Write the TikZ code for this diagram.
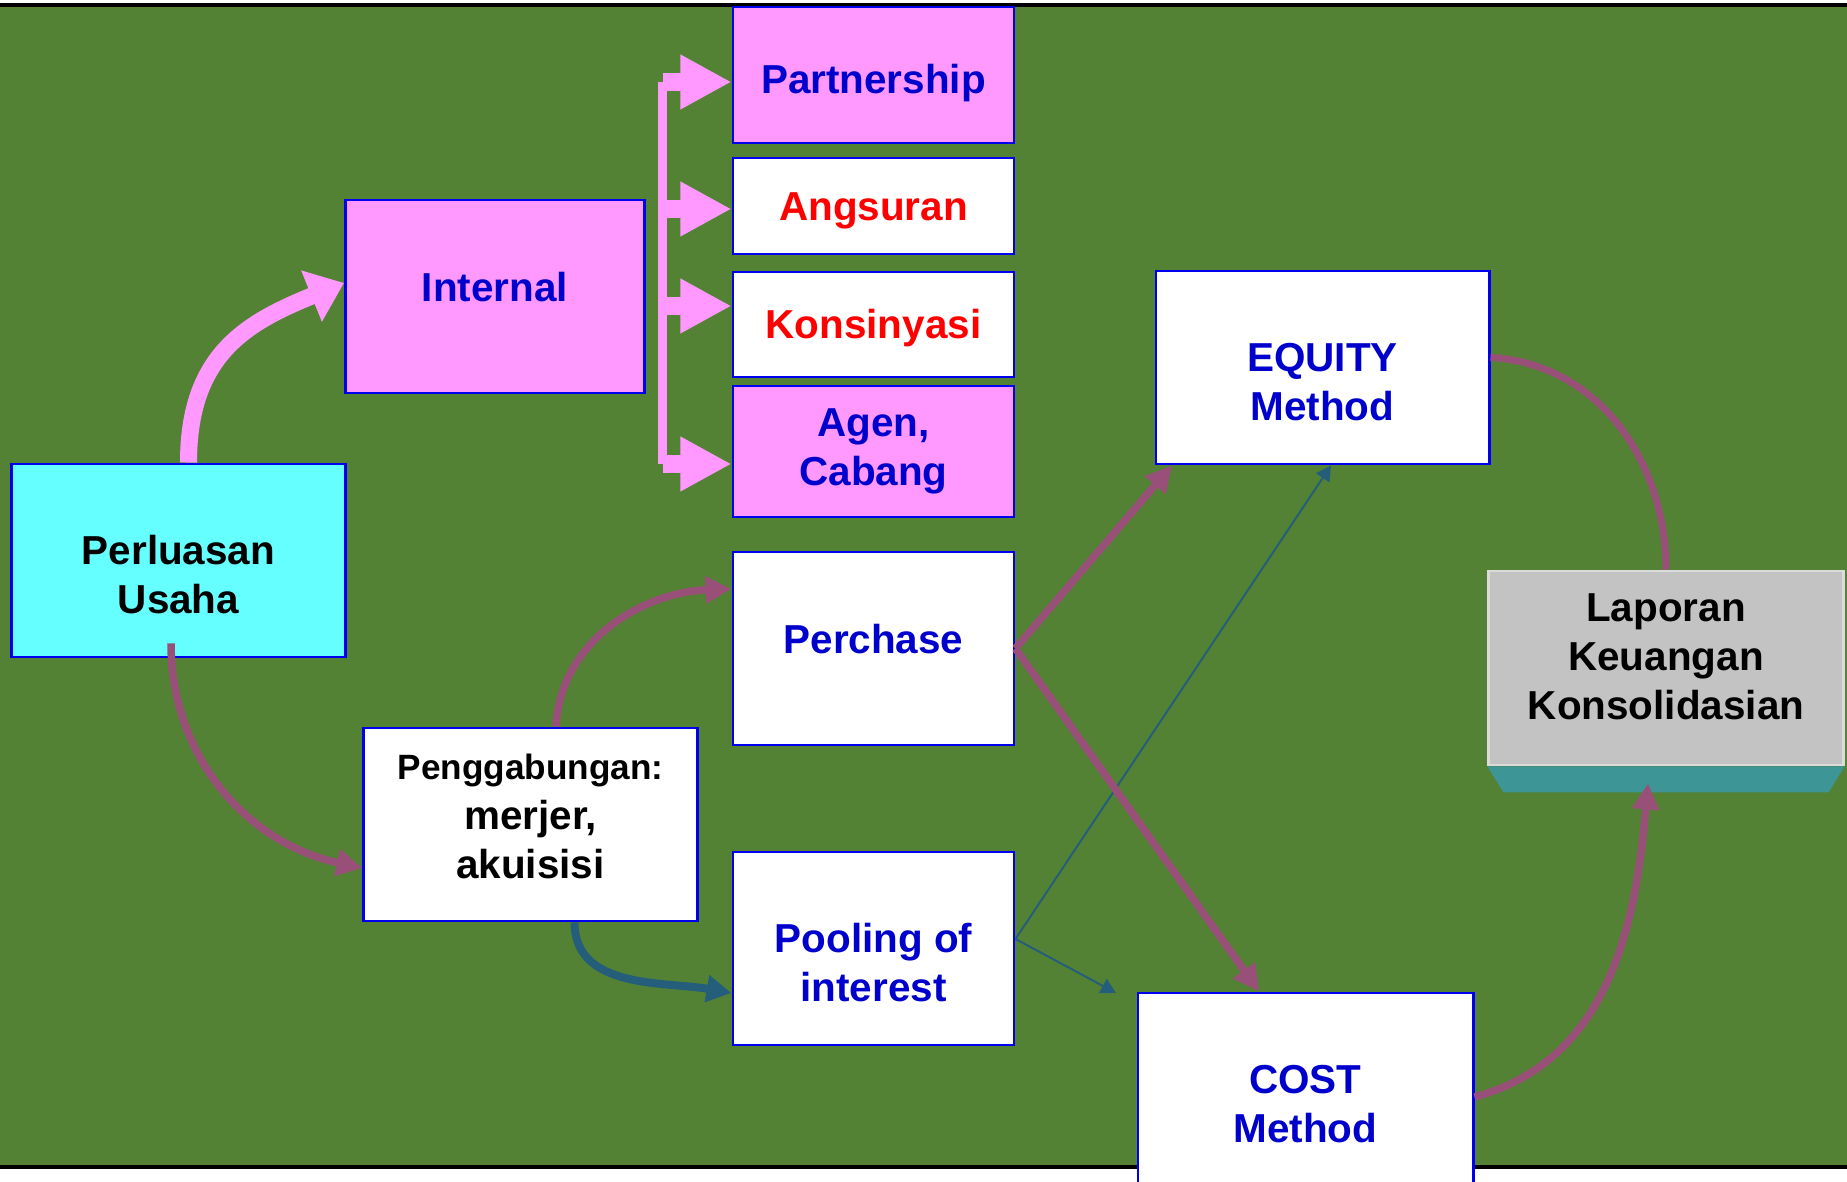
\documentclass[tikz,border=0pt]{standalone}
\usepackage{fontspec}
\setmainfont{Liberation Sans}
\usepackage{tikz}
\usetikzlibrary{arrows.meta}

\definecolor{bggreen}{HTML}{548235}
\definecolor{boxpink}{HTML}{FF99FF}
\definecolor{boxcyan}{HTML}{66FFFF}
\definecolor{boxblue}{HTML}{0000F0}
\definecolor{textblue}{HTML}{0000CC}
\definecolor{textred}{HTML}{FF0000}
\definecolor{mauve}{HTML}{985078}
\definecolor{deepblue}{HTML}{255E7A}
\definecolor{lapgrey}{HTML}{C3C3C3}
\definecolor{lapteal}{HTML}{3D9595}

\newcommand{\padtop}[1]{\rule{0pt}{#1}}
\newcommand{\padbot}[1]{\rule[-#1]{0pt}{#1}}

\tikzset{
	box/.style = {draw = boxblue,
				  line width = 0.8pt,
				  inner sep = 0pt,
				  align = center,
				  font = \bfseries\fontsize{11.5}{14}\selectfont},
	widebox/.style = {box,
					  minimum width = 3.33cm,
					  minimum height = 1.93cm},
	slimbox/.style = {box,
					  minimum width = 2.81cm},
	pinkcurve/.style = {draw = boxpink,
						line width = 0.17cm,
						-{Triangle[length = 0.35cm, width = 0.53cm]}},
	pinkbus/.style = {draw = boxpink,
					  line width = 0.09cm},
	pinkstub/.style = {draw = boxpink,
					   line width = 0.18cm,
					   -{Triangle[length = 0.51cm, width = 0.51cm]}},
	mauvearrow/.style = {draw = mauve,
						 line width = 0.075cm,
						 -{Triangle[length = 0.26cm, width = 0.26cm]}},
	mauveline/.style = {draw = mauve,
						line width = 0.07cm},
	bluecurve/.style = {draw = deepblue,
						line width = 0.08cm,
						-{Triangle[length = 0.25cm, width = 0.26cm]}},
	bluethin/.style = {draw = deepblue,
					   line width = 0.02cm,
					   -{Triangle[length = 0.15cm, width = 0.16cm]}}
}

\begin{document}
\begin{tikzpicture}[x = 0.01cm, y = 0.01cm]

	\useasboundingbox (0,0) rectangle (1847,1182);
	\fill[bggreen] (0,15) rectangle (1847,1177);
	\draw[black, line width = 0.04cm] (0,1177) -- (1847,1177);
	\draw[black, line width = 0.04cm] (0,15) -- (1847,15);

	\node[slimbox, fill = boxpink, text = textblue,
		  minimum height = 1.36cm] (partnership) at (873.5,1107) {\padtop{0.45cm}Partnership};
	\node[slimbox, fill = white, text = textred,
		  minimum height = 0.96cm] (angsuran) at (873.5,976) {\padtop{0.37cm}Angsuran};
	\node[slimbox, fill = white, text = textred,
		  minimum height = 1.05cm] (konsinyasi) at (873.5,857.5) {\padtop{0.37cm}Konsinyasi};
	\node[slimbox, fill = boxpink, text = textblue,
		  minimum height = 1.31cm] (agen) at (873.5,730.5) {Agen,\\Cabang};

	\node[box, fill = boxpink, text = textblue,
		  minimum width = 2.99cm,
		  minimum height = 1.93cm] (internal) at (495,885.5) {Internal\padbot{0.19cm}};
	\node[widebox, fill = boxcyan] (perluasan) at (178.5,621.5) {\padtop{0.57cm}Perluasan\\Usaha};
	\node[slimbox, fill = white, text = textblue,
		  minimum height = 1.93cm] (perchase) at (873.5,533.5) {Perchase\padbot{0.2cm}};
	\node[widebox, fill = white] (penggabungan) at (530.5,357.5)
		{{\fontsize{10}{12}\selectfont Penggabungan:}\\merjer,\\akuisisi\padbot{0.16cm}};
	\node[slimbox, fill = white, text = textblue,
		  minimum height = 1.93cm] (pooling) at (873.5,233.5) {\padtop{0.57cm}Pooling of\\interest};
	\node[widebox, fill = white, text = textblue] (equity) at (1322.5,814.5) {\padtop{0.57cm}EQUITY\\Method};
	\node[widebox, fill = white, text = textblue,
		  minimum width = 3.35cm] (cost) at (1305.5,92.5) {\padtop{0.57cm}COST\\Method};
	\node[box, fill = lapgrey, draw = lapgrey!60!white,
		  minimum width = 3.54cm,
		  minimum height = 1.94cm] (laporan) at (1666,514) {Laporan\\Keuangan\\Konsolidasian\padbot{0.23cm}};
	\fill[lapteal] (laporan.south west) -- (laporan.south east) -- ++(-16,-26)
		-- ([xshift = 0.16cm, yshift = -0.26cm]laporan.south west) -- cycle;

	\coordinate (bus1) at (662.5,1100);
	\coordinate (bus2) at (662.5,973);
	\coordinate (bus3) at (662.5,876);
	\coordinate (bus4) at (662.5,718);
	\coordinate (costcorner) at (1116,189);

	\draw[pinkcurve] ([xshift = 0.1cm]perluasan.north)
		to[out = 90, in = 202, looseness = 1.15] ([yshift = 0.135cm]internal.west);

	\draw[pinkbus] (bus1) -- (bus4);
	\draw[pinkstub] (bus1) -- (bus1 -| partnership.west);
	\draw[pinkstub] (bus2) -- (bus2 -| angsuran.west);
	\draw[pinkstub] (bus3) -- (bus3 -| konsinyasi.west);
	\draw[pinkstub] (bus4) -- (bus4 -| agen.west);

	\draw[mauvearrow] ([xshift = -0.075cm, yshift = 0.15cm]perluasan.south)
		to[out = -90, in = 168] ([yshift = -0.435cm]penggabungan.west);
	\draw[mauvearrow] ([xshift = 0.255cm]penggabungan.north)
		to[out = 87, in = 182] ([yshift = 0.595cm]perchase.west);
	\draw[bluecurve] ([xshift = 0.44cm]penggabungan.south)
		to[out = -90, in = 170] ([yshift = -0.445cm]pooling.west);

	\draw[bluethin] ([yshift = 0.095cm]pooling.east) -- ([xshift = 0.085cm]equity.south);
	\draw[bluethin] ([yshift = 0.095cm]pooling.east) -- (costcorner);

	\draw[mauvearrow] (perchase.east) -- ([xshift = 0.175cm]equity.south west);
	\draw[mauvearrow] (perchase.east) -- ([xshift = -0.465cm]cost.north);

	\draw[mauveline] ([yshift = 0.1cm]equity.east)
		to[out = -3, in = 90] (laporan.north);
	\draw[mauvearrow] ([yshift = -0.075cm]cost.east)
		to[out = 15, in = -95] ([xshift = -0.18cm, yshift = -0.17cm]laporan.south);

\end{tikzpicture}
\end{document}
